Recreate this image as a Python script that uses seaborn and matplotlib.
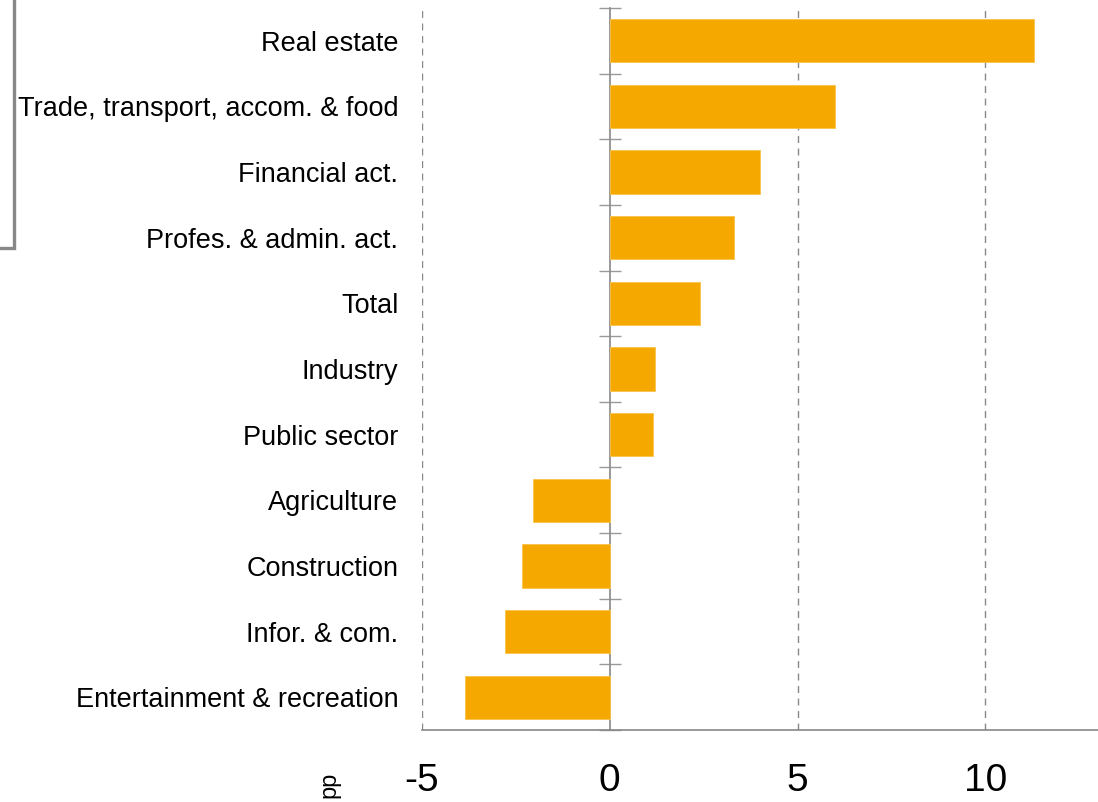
import matplotlib
matplotlib.use("Agg")
import matplotlib.pyplot as plt
import seaborn as sns
import pandas as pd
from matplotlib.patches import Rectangle

categories = ["Real estate", "Trade, transport, accom. & food", "Financial act.",
              "Profes. & admin. act.", "Total", "Industry", "Public sector",
              "Agriculture", "Construction", "Infor. & com.", "Entertainment & recreation"]
values = [11.3, 6.0, 4.0, 3.3, 2.4, 1.2, 1.15, -2.05, -2.35, -2.8, -3.85]
xticks = [-5, 0, 5, 10]
unit_label = "pp"

sns.set_theme(style="white")
plt.rcParams['font.family'] = ['Liberation Sans', 'DejaVu Sans']

df = pd.DataFrame({"category": categories, "value": values})

fig = plt.figure(figsize=(10.98, 8.02), dpi=100)
ax = fig.add_axes([422/1098, 1 - 730/802, 676/1098, 722/802])

sns.barplot(data=df, y="category", x="value", orient="h", color="#F5A800",
            saturation=1, width=0.66, ax=ax, edgecolor="#F8C24A", linewidth=0.6)

ax.set_xlim(-5, 13)
ax.set_ylim(len(categories) - 0.5, -0.5)
ax.set_xlabel("")
ax.set_ylabel("")

# gridlines (dashed) at non-zero ticks
for xv in xticks:
    if xv != 0:
        ax.axvline(xv, color="#888888", lw=1.0, ls=(0, (5, 4)), zorder=0)

for s in ["top", "right", "left"]:
    ax.spines[s].set_visible(False)
ax.spines["bottom"].set_color("#888888")
ax.spines["bottom"].set_linewidth(1.2)

ax.set_xticks(xticks)
ax.set_xticklabels([str(t) for t in xticks])
ax.tick_params(axis="x", length=0, pad=24, labelsize=28, labelcolor="black")
ax.tick_params(axis="y", length=0, pad=17, labelsize=19.5, labelcolor="black")

# zero axis with category-boundary ticks
sec = ax.secondary_yaxis(5 / 18)
sec.spines["left"].set_color("#888888")
sec.spines["left"].set_linewidth(1.2)
sec.set_yticks([i - 0.5 for i in range(len(categories) + 1)])
sec.set_yticklabels([])
sec.tick_params(axis="y", direction="inout", length=16, width=1.0, color="#999999")

# unit label
fig.text(329/1098, 1 - 785/802, unit_label, rotation=90, ha="center", va="center",
         fontsize=17, color="black")

# clipped legend frame at top-left
fig.patches.append(Rectangle((-0.2, 1 - 248/802), 0.2 + 14/1098, 0.5,
                             transform=fig.transFigure, fill=False,
                             edgecolor="#888888", lw=2.4))

fig.savefig("out.png", dpi=100)
